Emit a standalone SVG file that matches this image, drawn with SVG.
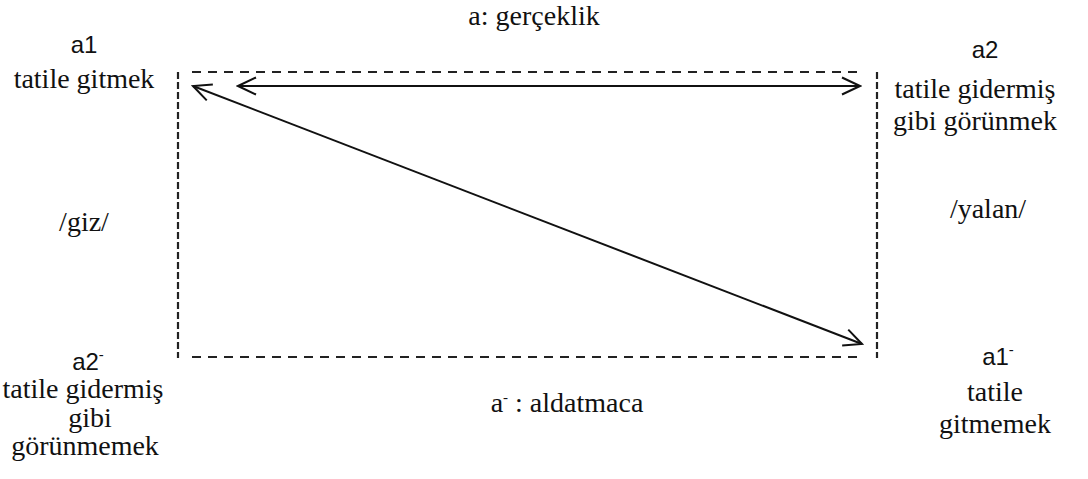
<svg xmlns="http://www.w3.org/2000/svg" width="1088" height="479" viewBox="0 0 1088 479">
  <style>
    .t { font-family: Liberation Serif; font-size: 28px; fill: #111; text-anchor: middle; }
    .s { font-family: Liberation Sans; font-size: 24px; fill: #111; text-anchor: middle; }
    .sup { font-size: 15px; }
    .frameh { stroke: #222; stroke-width: 2.2; stroke-dasharray: 9 7; fill: none; }
    .framev { stroke: #222; stroke-width: 2.2; stroke-dasharray: 7 3; fill: none; }
    .arrow { stroke: #111; stroke-width: 2; fill: none; }
  </style>
  <defs>
    <marker id="head" viewBox="-20 -10 22 20" refX="0" refY="0" markerWidth="22" markerHeight="20" markerUnits="userSpaceOnUse" orient="auto-start-reverse">
      <path d="M-18,-8.5 L0,0 L-18,8.5" fill="none" stroke="#111" stroke-width="2" stroke-linejoin="miter"/>
    </marker>
  </defs>
  <rect width="1088" height="479" fill="#fff"/>

  <g id="frame">
    <line class="frameh" x1="192" y1="72" x2="864" y2="72"/>
    <line class="frameh" x1="192" y1="357" x2="864" y2="357"/>
    <line class="framev" x1="178" y1="72" x2="178" y2="358"/>
    <line class="framev" x1="877" y1="72" x2="877" y2="358"/>
  </g>

  <g id="connectors">
    <line class="arrow" x1="238" y1="86" x2="860" y2="86" marker-start="url(#head)" marker-end="url(#head)"/>
    <line class="arrow" x1="193" y1="86" x2="862" y2="344" marker-start="url(#head)" marker-end="url(#head)"/>
  </g>

  <g id="title-top">
    <text class="t" x="534" y="25" font-family="Liberation Serif">a: gerçeklik</text>
  </g>
  <g id="node-a1">
    <text class="s" x="84" y="53">a1</text>
    <text class="t" x="84" y="88" font-family="Liberation Serif">tatile gitmek</text>
  </g>
  <g id="node-a2">
    <text class="s" x="985" y="58">a2</text>
    <text class="t" x="975" y="98" font-family="Liberation Serif">tatile gidermiş</text>
    <text class="t" x="975" y="130" font-family="Liberation Serif">gibi görünmek</text>
  </g>
  <g id="label-giz">
    <text class="t" x="84" y="231" font-family="Liberation Serif">/giz/</text>
  </g>
  <g id="label-yalan">
    <text class="t" x="988" y="218" font-family="Liberation Serif">/yalan/</text>
  </g>
  <g id="node-a2-neg">
    <text class="s" x="88" y="370">a2<tspan class="sup" dy="-10">-</tspan></text>
    <text class="t" x="83" y="398" font-family="Liberation Serif">tatile gidermiş</text>
    <text class="t" x="90" y="427" font-family="Liberation Serif">gibi</text>
    <text class="t" x="85" y="455" font-family="Liberation Serif">görünmemek</text>
  </g>
  <g id="node-a1-neg">
    <text class="s" x="998" y="365">a1<tspan class="sup" dy="-10">-</tspan></text>
    <text class="t" x="995" y="401" font-family="Liberation Serif">tatile</text>
    <text class="t" x="995" y="433" font-family="Liberation Serif">gitmemek</text>
  </g>
  <g id="title-bottom">
    <text class="t" x="567" y="412" font-family="Liberation Serif">a<tspan class="sup" dy="-10">-</tspan><tspan dy="10"> : aldatmaca</tspan></text>
  </g>
</svg>
